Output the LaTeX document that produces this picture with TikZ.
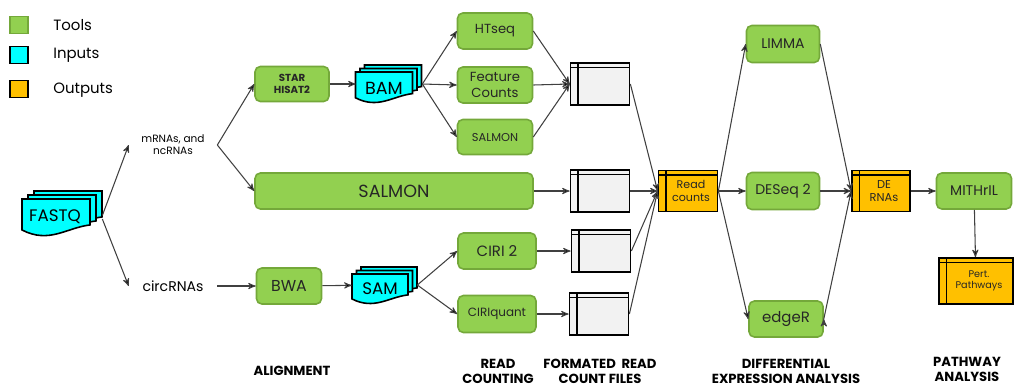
\documentclass[tikz,border=0pt]{standalone}
\usepackage{fontspec}
\setmainfont{Poppins}
\usetikzlibrary{arrows,positioning}
\definecolor{toolgreen}{RGB}{146,208,80}
\definecolor{toolborder}{RGB}{116,168,58}
\definecolor{inputcyan}{RGB}{0,255,255}
\definecolor{outputorange}{RGB}{255,192,0}
\definecolor{filegray}{RGB}{242,242,242}
\newcommand{\fs}[1]{\fontsize{#1}{1.15\dimexpr#1pt\relax}\selectfont}
\tikzset{
    %Define standard arrow tip
    >=stealth',
    %Define style for boxes
    tool/.style={
           rectangle,
           rounded corners=3pt,
           draw=toolborder, line width=0.9pt,
           fill=toolgreen,
           text=black!85,
           inner sep=1pt,
           align=center,
           },
    store/.style={
           rectangle,
           draw=black, line width=1pt,
           inner sep=1pt,
           align=center,
           path picture={
              \draw[line width=1pt] ([xshift=0.15cm]path picture bounding box.north west) -- ([xshift=0.15cm]path picture bounding box.south west);
              \draw[line width=1pt] ([yshift=-0.09cm]path picture bounding box.north west) -- ([yshift=-0.09cm]path picture bounding box.north east);
              },
           },
    cfile/.style={store, fill=filegray, minimum width=1.18cm, minimum height=0.84cm},
    output/.style={store, fill=outputorange, text=black!85},
    docshape/.style={draw=black, line width=0.9pt, fill=inputcyan},
    stack/.style={rectangle, inner sep=0pt},
    legbox/.style={rectangle, minimum width=0.36cm, minimum height=0.34cm, inner sep=0pt},
    legtext/.style={anchor=west, inner sep=0pt, font=\fs{8.5}},
    stage/.style={align=center, font=\bfseries\fs{7.5}, inner sep=0pt},
    % Define arrow style
    pil/.style={
           ->,
           line width=0.6pt,
           draw=black!75,},
}
% three stacked documents, front one centred at (#1,#2), size #3 x #4, shifted by #5,#6 each
\newcommand{\docstack}[6]{%
  \foreach \k in {2,1,0}{%
    \begin{scope}[shift={({#1+\k*#5},{#2-\k*#6})}, xscale=#3, yscale=#4]
      \draw[docshape] (-0.5,-0.5) -- (0.5,-0.5) -- (0.5,0.22)
        .. controls (0.15,0.3) and (-0.1,0.75) .. (-0.5,0.36) -- cycle;
    \end{scope}}%
}

\begin{document}
\begin{tikzpicture}[x=0.02cm, y=-0.02cm]
\useasboundingbox (0,0) rectangle (1014,387);
 %legend
\node[legbox, tool, rounded corners=0pt](legtool) at (19,25){};
\node[legbox, draw=black, line width=0.9pt, fill=inputcyan](leginput) at (19,55){};
\node[legbox, draw=black, line width=0.9pt, fill=outputorange](legoutput) at (19,89){};
\node[legtext](legtooltxt) at (53,25){Tools};
\node[legtext](leginputtxt) at (53,55){Inputs};
\node[legtext](legoutputtxt) at (53,90){Outputs};

 %inputs
\docstack{56}{217}{68}{36}{6}{4}
\node[stack, minimum width=1.6cm, minimum height=0.88cm](fastq) at (62,213){};
\node[font=\fs{9.5}](fastqtxt) at (55,217){FASTQ};
\node[align=center, font=\fs{6}, minimum width=1.76cm, inner sep=0pt](mrna) at (173,145){mRNAs, and\\ncRNAs};
\node[font=\fs{8}, minimum width=1.76cm, inner sep=0pt](circ) at (173,286){circRNAs};

 %alignment
\node[tool, font=\bfseries\fs{5.8}, minimum width=1.48cm, minimum height=0.7cm](star) at (292,84){STAR\\HISAT2};
\node[tool, font=\fs{10}, minimum width=5.56cm, minimum height=0.72cm](salmonbig) at (394,191){SALMON};
\node[tool, font=\fs{9}, minimum width=1.3cm, minimum height=0.72cm](bwa) at (289,286){BWA};
\docstack{384}{87}{57}{30}{4.5}{3.5}
\node[stack, minimum width=1.32cm, minimum height=0.74cm](bam) at (389,84){};
\node[font=\fs{10}](bamtxt) at (384,88){BAM};
\docstack{380}{288.5}{56}{29}{4.5}{3.5}
\node[stack, minimum width=1.3cm, minimum height=0.72cm](sam) at (384.5,285){};
\node[font=\fs{9.5}](samtxt) at (380,289){SAM};

 %read counting
\node[tool, font=\fs{7.5}, minimum width=1.5cm, minimum height=0.72cm](htseq) at (495,31){HTseq};
\node[tool, font=\fs{7.5}, minimum width=1.5cm, minimum height=0.72cm](feat) at (495,85){Feature\\Counts};
\node[tool, font=\fs{6.5}, minimum width=1.5cm, minimum height=0.7cm](salmon) at (495,137){SALMON};
\node[tool, font=\fs{8.5}, minimum width=1.56cm, minimum height=0.72cm](ciri) at (497,251){CIRI 2};
\node[tool, font=\fs{6.8}, minimum width=1.56cm, minimum height=0.74cm](ciriq) at (497,314){CIRIquant};

 %count files
\node[cfile](file1) at (600,84){};
\node[cfile](file2) at (600,191){};
\node[cfile](file3) at (601,251){};
\node[cfile](file4) at (599,314){};
\node[output, font=\fs{6.3}, minimum width=1.18cm, minimum height=0.82cm, text width=0.9cm](counts) at (688,191){\hspace*{0.12cm}Read\\\hspace*{0.12cm}counts};

 %differential expression
\node[tool, font=\fs{8}, minimum width=1.46cm, minimum height=0.74cm](limma) at (783,44){LIMMA};
\node[tool, font=\fs{8}, minimum width=1.46cm, minimum height=0.74cm](deseq) at (783,191){DESeq 2};
\node[tool, font=\fs{8.5}, minimum width=1.48cm, minimum height=0.72cm](edger) at (786,319){edgeR};
\node[output, font=\fs{6.5}, minimum width=1.16cm, minimum height=0.82cm, text width=0.9cm](de) at (881,191){\hspace*{0.12cm}DE\\\hspace*{0.12cm}RNAs};

 %pathway analysis
\node[tool, font=\fs{8}, minimum width=1.5cm, minimum height=0.72cm](mithril) at (974,191){MITHrIL};
\node[output, font=\fs{5.5}, minimum width=1.48cm, minimum height=0.92cm, text width=1.2cm](pert) at (976,281){\hspace*{0.12cm}Pert.\\\hspace*{0.12cm}Pathways};

 %stage labels
\node[stage](align) at (292,371){ALIGNMENT};
\node[stage](readcnt) at (498,371){READ\\COUNTING};
\node[stage](fmtfiles) at (600,371){FORMATED\ \ READ\\COUNT FILES};
\node[stage](diffexp) at (786,371){DIFFERENTIAL\\EXPRESSION ANALYSIS};
\node[stage](pathway) at (967,369){PATHWAY\\ANALYSIS};

 %connectors
\path[pil]
    ([yshift=-0.05cm]fastq.east) edge (mrna.west)
    ([yshift=-0.12cm]fastq.east) edge (circ.west)
    (circ.east) edge (bwa.west)
    (mrna.east) edge (star.west) edge (salmonbig.west)
    (star) edge (bam)
    (bwa) edge (sam)
    (bam.east) edge (htseq.west) edge (feat.west) edge (salmon.west)
    (sam.east) edge (ciri.west) edge (ciriq.west)
    (htseq.east) edge (file1.west)
    (feat.east) edge (file1.west)
    (salmon.east) edge (file1.west)
    (salmonbig.east) edge (file2.west)
    (ciri.east) edge (file3.west)
    (ciriq.east) edge (file4.west)
    (file1.east) edge (counts.west)
    (file2.east) edge (counts.west)
    (file3.east) edge (counts.west)
    (file4.east) edge (counts.west)
    (counts.east) edge (limma.west) edge (deseq.west) edge (edger.west)
    (limma.east) edge (de.west)
    (deseq.east) edge (de.west)
    (edger.east) edge (de.west)
    (de) edge (mithril)
    (mithril) edge (pert);
\end{tikzpicture}
\end{document}
